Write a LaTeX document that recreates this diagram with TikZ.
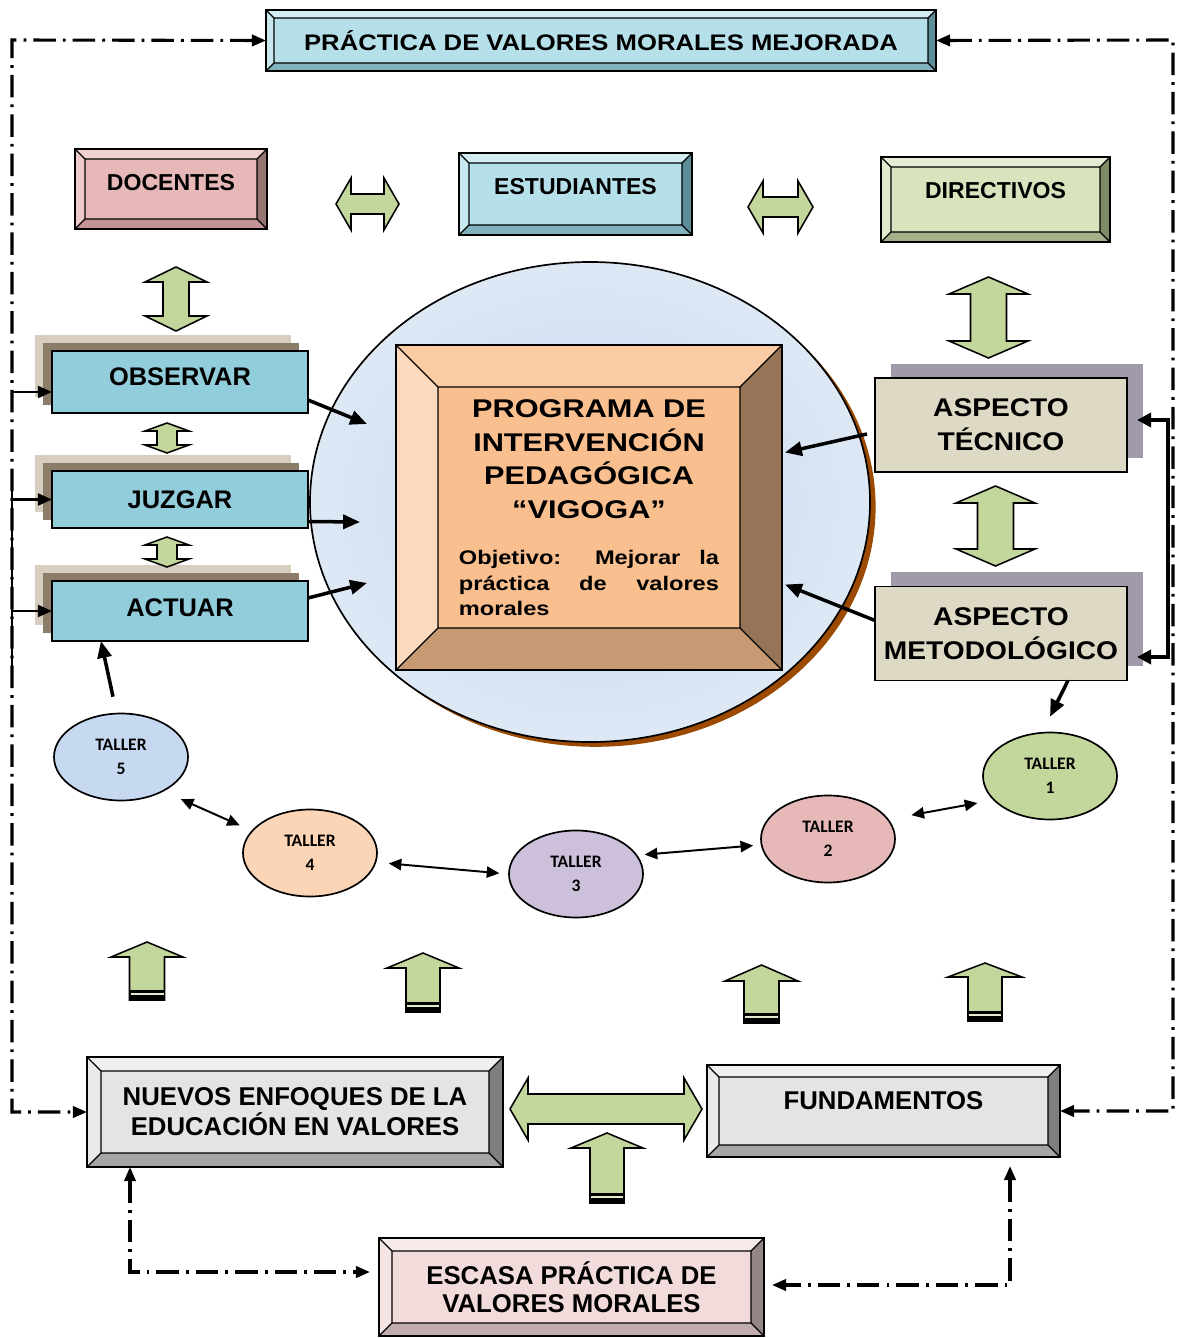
\documentclass[tikz,border=0pt]{standalone}
\usepackage{fontspec}
\setmainfont{Liberation Sans}
\newfontfamily\titlefont[FakeStretch=1.14]{Liberation Sans}
\newfontfamily\progfont[FakeStretch=1.2]{Liberation Sans}
\newfontfamily\aspfont[FakeStretch=1.1]{Liberation Sans}
\newfontfamily\tallerfont{Carlito}
\usepackage{tikz}
\usetikzlibrary{arrows.meta}
\usetikzlibrary{calc}
\usetikzlibrary{shapes.geometric}
\usetikzlibrary{shadows}

\definecolor{cyanface}{HTML}{B6E0E9}
\definecolor{cyantop}{HTML}{D3EEF3}
\definecolor{cyanleft}{HTML}{C8E8EF}
\definecolor{cyanright}{HTML}{5B8E98}
\definecolor{cyanbot}{HTML}{80B3BD}
\definecolor{pinkface}{HTML}{E6B9B8}
\definecolor{pinktop}{HTML}{F0D2D1}
\definecolor{pinkleft}{HTML}{EDCACA}
\definecolor{pinkright}{HTML}{977372}
\definecolor{pinkbot}{HTML}{C39493}
\definecolor{oliveface}{HTML}{D7E4BD}
\definecolor{olivetop}{HTML}{E5EDD5}
\definecolor{oliveleft}{HTML}{E0EACC}
\definecolor{oliveright}{HTML}{7F8B66}
\definecolor{olivebot}{HTML}{A4B08A}
\definecolor{greyface}{HTML}{E4E4E4}
\definecolor{greytop}{HTML}{F0F0F0}
\definecolor{greyleft}{HTML}{EAEAEA}
\definecolor{greyright}{HTML}{7F7F7F}
\definecolor{greybot}{HTML}{A5A5A5}
\definecolor{roseface}{HTML}{F2DCDB}
\definecolor{rosetop}{HTML}{F7EAEA}
\definecolor{roseleft}{HTML}{F5E4E3}
\definecolor{roseright}{HTML}{958585}
\definecolor{rosebot}{HTML}{C1ADAD}
\definecolor{progface}{HTML}{F9BF8F}
\definecolor{progtop}{HTML}{FBCBA3}
\definecolor{progleft}{HTML}{FCD9BD}
\definecolor{progright}{HTML}{977457}
\definecolor{progbot}{HTML}{C89A73}
\definecolor{stepblue}{HTML}{92CDDC}
\definecolor{shlight}{HTML}{D8CEBF}
\definecolor{shdark}{HTML}{8B7D6A}
\definecolor{aspface}{HTML}{DDD9C4}
\definecolor{aspshadow}{HTML}{A09AAA}
\definecolor{globein}{HTML}{C3D5EE}
\definecolor{globeout}{HTML}{DEE8F5}
\definecolor{globerim}{HTML}{9C4A00}
\definecolor{arrowgreen}{HTML}{C3D69B}
\definecolor{stripegreen}{HTML}{E2EBCF}
\definecolor{tallerA}{HTML}{C3D69B}
\definecolor{tallerB}{HTML}{E6B9B8}
\definecolor{tallerC}{HTML}{CCC0DA}
\definecolor{tallerD}{HTML}{FBD5B5}
\definecolor{tallerE}{HTML}{C6D9F1}

\newcommand{\unitpx}{0.025cm}

% node, depth, top, left, right, bottom
\newcommand{\bevelbox}[6]{%
  \fill[#3] (#1.north west) -- (#1.north east) -- ($(#1.north east)+(-#2,#2)$) -- ($(#1.north west)+(#2,#2)$) -- cycle;
  \fill[#4] (#1.north west) -- ($(#1.north west)+(#2,#2)$) -- ($(#1.south west)+(#2,-#2)$) -- (#1.south west) -- cycle;
  \fill[#5] (#1.north east) -- ($(#1.north east)+(-#2,#2)$) -- ($(#1.south east)+(-#2,-#2)$) -- (#1.south east) -- cycle;
  \fill[#6] (#1.south west) -- ($(#1.south west)+(#2,-#2)$) -- ($(#1.south east)+(-#2,-#2)$) -- (#1.south east) -- cycle;
  \draw[line width=0.9pt] ($(#1.north west)+(#2,#2)$) rectangle ($(#1.south east)+(-#2,-#2)$)
    (#1.north west) -- ++(#2,#2) (#1.north east) -- ++(-#2,#2)
    (#1.south west) -- ++(#2,-#2) (#1.south east) -- ++(-#2,-#2);
  \draw[line width=1.2pt] (#1.north west) rectangle (#1.south east);
}
% cx, cy, length, width, shaft, head
\newcommand{\greenharrow}[6]{%
  \draw[greenblock] ({#1-#3/2},#2) -- ++(#6,{-#4/2}) -- ++(0,{(#4-#5)/2}) -- ++({#3-2*#6},0) -- ++(0,{-(#4-#5)/2}) -- ++(#6,{#4/2}) -- ++(-#6,{#4/2}) -- ++(0,{-(#4-#5)/2}) -- ++({-(#3-2*#6)},0) -- ++(0,{(#4-#5)/2}) -- cycle;}
\newcommand{\greenvarrow}[6]{%
  \draw[greenblock] (#1,{#2-#3/2}) -- ++({#4/2},#6) -- ++({-(#4-#5)/2},0) -- ++(0,{#3-2*#6}) -- ++({(#4-#5)/2},0) -- ++({-#4/2},#6) -- ++({-#4/2},-#6) -- ++({(#4-#5)/2},0) -- ++(0,{-(#3-2*#6)}) -- ++({-(#4-#5)/2},0) -- cycle;}
% cx, tip y, bottom y, head width, shaft width, head length
\newcommand{\greenuparrow}[6]{%
  \draw[greenblock] (#1,#2) -- ++({#4/2},#6) -- ++({-(#4-#5)/2},0) |- ({#1-#5/2},#3) -- ++(0,{-(#3-#2-#6)}) -- ++({-(#4-#5)/2},0) -- cycle;
  \fill ({#1-#5/2},{#3-10}) rectangle ({#1+#5/2},#3);
  \fill[stripegreen] ({#1-#5/2+1},{#3-7.5}) rectangle ({#1+#5/2-1},{#3-5.5});}

\begin{document}
\begin{tikzpicture}[x=\unitpx, y=-\unitpx, line join=miter,
  bbox/.style={draw, line width=1.2pt, inner sep=0pt, outer sep=0pt, font=\bfseries\fontsize{16.4}{19}\selectfont},
  boxsize/.style 2 args={minimum width=#1*\unitpx, minimum height=#2*\unitpx},
  greenblock/.style={draw, fill=arrowgreen, line width=1.1pt},
  stepbox/.style={bbox, fill=stepblue, boxsize={256}{62}, font=\bfseries\fontsize{18.1}{21}\selectfont,
    general shadow={fill=shlight, shadow xshift=-0.425cm, shadow yshift=0.4cm},
    general shadow={fill=shdark, shadow xshift=-0.225cm, shadow yshift=0.2cm}},
  aspbox/.style={bbox, fill=aspface, boxsize={252}{94}, align=center, font=\aspfont\bfseries\fontsize{18.2}{24.2}\selectfont,
    general shadow={fill=aspshadow, shadow xshift=0.39cm, shadow yshift=0.36cm}},
  lowbox/.style={bbox, align=center, font=\bfseries\fontsize{18.3}{21.3}\selectfont},
  taller/.style={ellipse, draw, line width=1.2pt, inner sep=0pt, minimum width=134*\unitpx, minimum height=87*\unitpx,
    align=center, font=\tallerfont\bfseries\fontsize{12.5}{17}\selectfont},
  fatarrow/.style={-{Triangle[length=12pt,width=10pt]}, line width=2.5pt},
  tlink/.style={{Triangle[length=9pt,width=8pt]}-{Triangle[length=9pt,width=8pt]}, line width=1.4pt},
  sidelink/.style={line width=1.6pt},
  dashlink/.style={line width=2.2pt, dash pattern=on 16pt off 5pt on 2pt off 5pt,
    {Triangle[length=10pt,width=8pt]}-{Triangle[length=10pt,width=8pt]}}]

\useasboundingbox (0,0) rectangle (1176,1338);

\node[bbox, fill=cyanface, boxsize={670}{61}, font=\titlefont\bfseries\fontsize{16}{19}\selectfont] (meta) at (601,40.5) {PRÁCTICA DE VALORES MORALES MEJORADA};
\bevelbox{meta}{8}{cyantop}{cyanleft}{cyanright}{cyanbot}

\node[bbox, fill=pinkface, boxsize={192}{80}, text depth=0.35cm] (doc) at (171,189) {DOCENTES};
\bevelbox{doc}{10}{pinktop}{pinkleft}{pinkright}{pinkbot}
\node[bbox, fill=cyanface, boxsize={233}{82}, text depth=0.4cm] (est) at (575.5,194) {ESTUDIANTES};
\bevelbox{est}{10}{cyantop}{cyanleft}{cyanright}{cyanbot}
\node[bbox, fill=oliveface, boxsize={229}{85}, text depth=0.475cm] (dir) at (995.5,199.5) {DIRECTIVOS};
\bevelbox{dir}{10}{olivetop}{oliveleft}{oliveright}{olivebot}

\greenharrow{367.5}{204}{63}{52}{20}{15}
\greenharrow{780.5}{207}{65}{52}{20}{15}
\greenvarrow{176}{299}{64}{62}{26}{15}
\greenvarrow{988.5}{317.5}{81}{79}{36}{17}

% ver, juzgar, actuar
\node[stepbox, text depth=0.25cm] (obs) at (180,382) {OBSERVAR};
\node[stepbox, boxsize={256}{57}] (juz) at (180,499.5) {JUZGAR};
\node[stepbox, boxsize={256}{60}, text depth=0.15cm] (act) at (180,611) {ACTUAR};
\greenvarrow{167}{438}{30}{44}{20}{8}
\greenvarrow{167}{552}{30}{44}{20}{8}

\node[ellipse, draw, line width=1.2pt, minimum width=560*\unitpx, minimum height=480*\unitpx,
  shading=radial, inner color=globein, outer color=globeout,
  general shadow={fill=globerim, shadow xshift=0.14cm, shadow yshift=-0.12cm}] (globe) at (590,502) {};

\node[bbox, fill=progface, boxsize={386}{325}, align=center, font=\progfont\bfseries\fontsize{18.2}{23.8}\selectfont] (prog) at (589,507.5)
  {PROGRAMA DE\\INTERVENCIÓN\\PEDAGÓGICA\\“VIGOGA”\\[9.6pt]\parbox[t]{6.5cm}{\fontsize{14}{17.8}\selectfont
   \makebox[6.5cm][s]{Objetivo: Mejorar la}\\\makebox[6.5cm][s]{práctica de valores}\\morales}};
\bevelbox{prog}{42}{progtop}{progleft}{progright}{progbot}

\node[aspbox] (tec) at (1001,425) {ASPECTO\\TÉCNICO};
\node[aspbox] (met) at (1001,633.5) {ASPECTO\\METODOLÓGICO};
\greenvarrow{995.5}{526}{80}{79}{36}{17}

\coordinate (inobs) at (367,424);
\coordinate (injuz) at (360,522);
\coordinate (inact) at (367,583);
\draw[fatarrow] ($(obs.east)+(0,18)$) -- (inobs);
\draw[fatarrow] ($(juz.east)+(0,22)$) -- (injuz);
\draw[fatarrow] ($(act.east)+(0,-13)$) -- (inact);
\draw[fatarrow] ($(tec.west)+(-8,9)$) -- ($(prog.east)+(3,-55)$);
\draw[fatarrow] ($(met.west)+(0,-13)$) -- ($(prog.east)+(3,77)$);

% side brackets
\coordinate (lbar) at (12,483);
\coordinate (lbarend) at (12,667);
\draw[sidelink] (lbar) -- (lbarend);
\draw[sidelink, -{Triangle[length=10pt,width=8.5pt]}] ($(obs.west)+(-40,10)$) -- ($(obs.west)+(0,10)$);
\draw[sidelink, -{Triangle[length=10pt,width=8.5pt]}] (juz.west -| lbar) -- (juz.west);
\draw[sidelink, -{Triangle[length=10pt,width=8.5pt]}] (act.west -| lbar) -- (act.west);
\coordinate (rbar) at (1168,540);
\draw[line width=3pt, {Triangle[length=10pt,width=10pt]}-{Triangle[length=10pt,width=10pt]}]
  ($(tec.east)+(10,-5)$) -| (rbar) |- ($(met.east)+(10,23.5)$);

% talleres
\node[taller, fill=tallerA] (t1) at (1050,776) {TALLER\\1};
\node[taller, fill=tallerB] (t2) at (828,839) {TALLER\\2};
\node[taller, fill=tallerC] (t3) at (576,874) {TALLER\\3};
\node[taller, fill=tallerD] (t4) at (310,853) {TALLER\\4};
\node[taller, fill=tallerE] (t5) at (121,757) {TALLER\\5};
\draw[tlink, shorten <=0.575cm, shorten >=0.4cm] (t2.18) -- (t1.203);
\draw[tlink, shorten <=0.18cm, shorten >=0.19cm] (t3.17) -- (t2.185);
\draw[tlink, shorten <=0.31cm, shorten >=0.22cm] (t4.-8) -- (t3.180);
\draw[tlink, shorten <=0.47cm, shorten >=0.32cm] (t5.-39) -- (t4.159);
\draw[fatarrow] ($(met.south west)+(193,0)$) -- ($(t1.north)+(0,-15)$);
\draw[fatarrow] ($(t5.north)+(-8,-16)$) -- ($(act.south west)+(49,0)$);

\greenuparrow{147}{942}{1000}{72}{35}{15}
\greenuparrow{423}{953}{1012}{72}{34}{15}
\greenuparrow{761.5}{965}{1023}{73}{35}{16}
\greenuparrow{985}{963}{1021}{74}{34}{14}

% bottom row
\node[lowbox, fill=greyface, boxsize={416}{110}] (nue) at (295,1112) {NUEVOS ENFOQUES DE LA\\EDUCACIÓN EN VALORES};
\bevelbox{nue}{14}{greytop}{greyleft}{greyright}{greybot}
\node[lowbox, fill=greyface, boxsize={353}{92}, text depth=0.5cm] (fun) at (883.5,1111) {FUNDAMENTOS};
\bevelbox{fun}{12}{greytop}{greyleft}{greyright}{greybot}
\greenharrow{606}{1109}{192}{62}{30}{18}
\greenuparrow{607}{1133}{1203}{72}{34}{15}
\node[lowbox, fill=roseface, boxsize={385}{98}, font=\bfseries\fontsize{18.3}{20}\selectfont] (esc) at (571.5,1287) {ESCASA PRÁCTICA DE\\VALORES MORALES};
\bevelbox{esc}{13}{rosetop}{roseleft}{roseright}{rosebot}

% dashed loops
\coordinate (lcorner) at (12,40);
\coordinate (rcorner) at (1173,40);
\draw[dashlink] (meta.west) -- (lcorner) |- (nue.west);
\draw[dashlink] (meta.east) -- (rcorner) |- (fun.east);
\draw[dashlink] ($(nue.south west)+(43,0)$) |- ($(esc.west)+(-9,-15)$);
\draw[dashlink] ($(fun.south east)+(-50,9)$) |- ($(esc.east)+(8,-2)$);

\end{tikzpicture}
\end{document}
